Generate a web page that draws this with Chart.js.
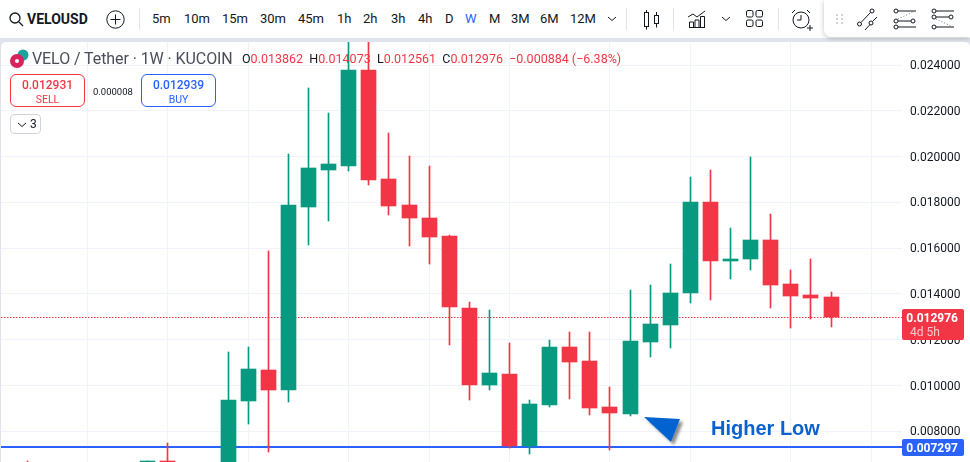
<!DOCTYPE html>
<html>
<head>
<meta charset="utf-8">
<title>VELOUSD</title>
<script src="https://cdn.jsdelivr.net/npm/chart.js@4/dist/chart.umd.min.js"></script>
<style>
html, body { margin: 0; padding: 0; background: #e0e3eb; overflow: hidden; }
body { width: 970px; height: 462px; position: relative; font-family: Roboto, sans-serif; }
#bar { position: absolute; left: 0; top: 0; width: 970px; height: 38px; background: #fff; color: #131722; }
#bar span { position: absolute; top: 11px; font-size: 13px; line-height: 16px; }
#bar svg { position: absolute; fill: none; stroke: #131722; stroke-width: 1; }
.sep { position: absolute; top: 8px; width: 1px; height: 22px; background: #e0e3eb; }
#tools { position: absolute; left: 824px; top: 0; width: 146px; height: 37px; background: #fff; border-radius: 0 0 0 7px; box-shadow: 0 1px 5px rgba(0,0,0,.25); }
#card { position: absolute; left: 1px; top: 42px; width: 969px; height: 420px; background: #fff; border-radius: 5px 5px 0 0; overflow: hidden; }
#chart { position: absolute; left: 0; top: 0; }
.legend { position: absolute; top: 9px; font-size: 12.5px; line-height: 16px; white-space: nowrap; color: #f23645; }
.trade { position: absolute; top: 32px; height: 33px; width: 75px; box-sizing: border-box; border: 1px solid; border-radius: 6px; text-align: center; background: #fff; font-size: 12px; }
.trade b { display: block; font-weight: 500; line-height: 15px; margin-top: 3px; }
.trade i { display: block; font-style: normal; font-size: 10.5px; line-height: 13px; }
#note { position: absolute; left: 710px; top: 374px; font: bold 20px "Liberation Sans", Arial, sans-serif; color: #0b61cf; line-height: 24px; }
</style>
</head>
<body>
<div id="bar">
  <svg style="left:9px;top:12px" width="15" height="15" viewBox="0 0 15 15"><circle cx="6" cy="6" r="5" stroke-width="1.3"/><path d="M10 10l4 4" stroke-width="1.3"/></svg>
  <span style="left:27px;font-weight:700;font-size:14px">VELOUSD</span>
  <svg style="left:106px;top:10px" width="19" height="19" viewBox="0 0 19 19"><circle cx="9.5" cy="9.5" r="8.7"/><path d="M9.5 4.5v10M4.5 9.5h10"/></svg>
  <div class="sep" style="left:139px"></div>
  <span style="left:152px">5m</span><span style="left:184px">10m</span><span style="left:222px">15m</span>
  <span style="left:260px">30m</span><span style="left:298px">45m</span><span style="left:337px">1h</span>
  <span style="left:363px">2h</span><span style="left:391px">3h</span><span style="left:418px">4h</span>
  <span style="left:445px">D</span><span style="left:465px;color:#2962ff">W</span><span style="left:489px">M</span>
  <span style="left:511px">3M</span><span style="left:540px">6M</span><span style="left:570px">12M</span>
  <svg style="left:607px;top:16px" width="10" height="6" viewBox="0 0 10 6"><path d="M1 1l4 3.5L9 1"/></svg>
  <div class="sep" style="left:626px"></div>
  <svg style="left:643px;top:10px" width="18" height="20" viewBox="0 0 18 20"><rect x="1.5" y="2.5" width="4" height="14"/><path d="M3.5 0v2.5M3.5 16.5v3"/><rect x="11.5" y="5.5" width="4" height="8"/><path d="M13.5 2v3.5M13.5 13.5v4"/></svg>
  <div class="sep" style="left:673px"></div>
  <svg style="left:688px;top:9px" width="20" height="20" viewBox="0 0 20 20"><path d="M0 8l5-3 4 3 8-6"/><path d="M1 18.5h16M1.5 13h4v5.5h-4zM7 11h4v7.5H7zM12.5 7.5h4v11h-4z"/></svg>
  <svg style="left:721px;top:16px" width="10" height="6" viewBox="0 0 10 6"><path d="M1 1l4 3.5L9 1"/></svg>
  <svg style="left:746px;top:10px" width="18" height="18" viewBox="0 0 18 18"><rect x=".5" y=".5" width="6.5" height="6.5" rx="1.5"/><rect x="10" y=".5" width="6.5" height="6.5" rx="1.5"/><rect x=".5" y="10" width="6.5" height="6.5" rx="1.5"/><rect x="10" y="10" width="6.5" height="6.5" rx="1.5"/></svg>
  <div class="sep" style="left:778px"></div>
  <svg style="left:791px;top:8px" width="22" height="24" viewBox="0 0 22 24"><circle cx="10" cy="12" r="8"/><path d="M10 7v5H6M1 5l3-3M16 2l3 3M16 20h6M19 17v6"/></svg>
  <div id="tools">
    <svg style="left:11px;top:13px" width="10" height="12" viewBox="0 0 10 12"><g fill="#d1d4dc" stroke="none"><rect x="1" y="1" width="2" height="2"/><rect x="6" y="1" width="2" height="2"/><rect x="1" y="5" width="2" height="2"/><rect x="6" y="5" width="2" height="2"/><rect x="1" y="9" width="2" height="2"/><rect x="6" y="9" width="2" height="2"/></g></svg>
    <svg style="left:33px;top:7px" width="24" height="24" viewBox="0 0 24 24"><circle cx="2.500" cy="17" r="2"/><circle cx="15" cy="4" r="2"/><circle cx="14" cy="16" r="2"/><path d="M4 15.500L13.500 5.500M8 23l5-5.500M15.500 14.500L20 10"/></svg>
    <svg style="left:69px;top:7px" width="26" height="24" viewBox="0 0 26 24"><circle cx="3" cy="4" r="2"/><circle cx="3" cy="14" r="2"/><circle cx="3" cy="20" r="2"/><circle cx="20" cy="14" r="2"/><path d="M5 4h18M5 14h13M5 20h18"/><path d="M5 12L20 5" stroke-dasharray="1 2" stroke="#787b86"/></svg>
    <svg style="left:107px;top:7px" width="26" height="24" viewBox="0 0 26 24"><circle cx="3" cy="4" r="2"/><circle cx="3" cy="10" r="2"/><circle cx="3" cy="20" r="2"/><circle cx="20" cy="10" r="2"/><path d="M5 4h18M5 10h13M5 20h18"/><path d="M5 12L20 19" stroke-dasharray="1 2" stroke="#787b86"/></svg>
  </div>
</div>
<div id="card">
  <canvas id="chart" width="969" height="420"></canvas>
  <svg style="position:absolute;left:9px;top:7px" width="20" height="20" viewBox="0 0 20 20"><circle cx="13" cy="6" r="5.500" fill="#1ba39c"/><circle cx="7" cy="12" r="7" fill="#d8245a"/><circle cx="7" cy="12" r="2" fill="#fff"/></svg>
  <div class="legend" style="left:31px;font-size:16px;letter-spacing:-.08px;color:#4a4e59">VELO / Tether · 1W · KUCOIN</div>
  <div class="legend" style="left:241px"><span style="color:#131722">O</span>0.013862 <span style="color:#131722">&nbsp;H</span>0.014073 <span style="color:#131722">&nbsp;L</span>0.012561 <span style="color:#131722">&nbsp;C</span>0.012976 &nbsp;−0.000884 (−6.38%)</div>
  <div class="trade" style="left:9px;color:#f23645;border-color:#f23645"><b>0.012931</b><i>SELL</i></div>
  <div style="position:absolute;left:92px;top:44px;font-size:9.5px;color:#131722">0.000008</div>
  <div class="trade" style="left:140px;color:#2962ff;border-color:#2962ff"><b>0.012939</b><i>BUY</i></div>
  <div style="position:absolute;left:9px;top:72px;width:31px;height:20px;box-sizing:border-box;border:1px solid #d1d4dc;border-radius:4px;font-size:12px;line-height:19px;color:#131722;text-indent:19px">3<svg style="position:absolute;left:6px;top:7px" width="10" height="6" viewBox="0 0 10 6" fill="none" stroke="#131722"><path d="M1 1l4 3.500L9 1"/></svg></div>
  <svg style="position:absolute;left:640px;top:372px;overflow:visible" width="46" height="34"><defs><filter id="sh" x="-20%" y="-20%" width="150%" height="150%"><feDropShadow dx="3" dy="3" stdDeviation="1.500" flood-color="#000" flood-opacity=".45"/></filter></defs><polygon points="3,3 39,5 30,28" fill="#0563d0" filter="url(#sh)"/></svg>
  <div id="note">Higher Low</div>
</div>
<script>
// week slots counted from the left edge of the crop
const weeks = [0, 6, 7, 10, 11, 12, 13, 14, 15, 16, 17, 18, 19, 20, 21, 22, 23, 24, 25, 26, 27, 28, 29, 30, 31, 32, 33, 34, 35, 36, 37, 38, 39, 40];
const opens = [0.0066, 0.0065, 0.0067, 0.00636, 0.00932, 0.01068, 0.0098, 0.0178, 0.01941, 0.01959, 0.02378, 0.01902, 0.01789, 0.01732, 0.01653, 0.01339, 0.01002, 0.0105, 0.00736, 0.00915, 0.01168, 0.01107, 0.00906, 0.00876, 0.0119, 0.01264, 0.01404, 0.01802, 0.01544, 0.01553, 0.01636, 0.01443, 0.01395, 0.013862];
const highs = [0.0067, 0.0067, 0.00749, 0.01146, 0.01168, 0.01587, 0.02011, 0.02299, 0.0219, 0.0262, 0.0262, 0.02103, 0.02002, 0.01959, 0.01657, 0.01365, 0.0133, 0.01186, 0.00937, 0.01199, 0.01234, 0.01234, 0.00994, 0.01417, 0.01439, 0.01531, 0.01911, 0.01941, 0.01688, 0.01998, 0.01749, 0.01505, 0.01553, 0.014073];
const lows = [0.0064, 0.0063, 0.0063, 0.0062, 0.00832, 0.0071, 0.00928, 0.01614, 0.01719, 0.01937, 0.01876, 0.01745, 0.01609, 0.01531, 0.01177, 0.00937, 0.00981, 0.00725, 0.00701, 0.00906, 0.00941, 0.00871, 0.00719, 0.00867, 0.01125, 0.01164, 0.0136, 0.01374, 0.01465, 0.01505, 0.01339, 0.01251, 0.0129, 0.012561];
const closes = [0.0065, 0.0067, 0.0065, 0.00936, 0.01072, 0.0098, 0.01789, 0.0195, 0.01968, 0.02378, 0.01898, 0.01784, 0.01732, 0.01649, 0.01343, 0.01002, 0.01055, 0.00736, 0.00919, 0.01168, 0.01103, 0.00902, 0.0088, 0.01195, 0.01269, 0.01404, 0.01802, 0.01544, 0.01553, 0.01636, 0.01439, 0.01391, 0.01382, 0.012976];
const gridWeeks = [3, 7, 11, 16, 20, 24, 29, 33, 38, 42];
const priceTicks = [0.008, 0.01, 0.012, 0.014, 0.016, 0.018, 0.02, 0.022, 0.024];
const lastClose = 0.012976;
const supportLevel = 0.007297;
const countdown = "4d 5h";

const UP = "#089981";
const DOWN = "#f23645";
const BLUE = "#2962ff";
const firstX = -1.3048, lastX = 43.5322;

function barColor(i) {
  return closes[i] >= opens[i] ? UP : DOWN;
}

// TradingView snaps everything to whole pixels, marks here would land on fractions otherwise
const snapMarks = {
  id: "snapMarks",
  afterDatasetsUpdate(chart) {
    chart.getSortedVisibleDatasetMetas().forEach(meta => {
      meta.data.forEach(mark => {
        if (meta.type == "bar") {
          mark.x = Math.floor(mark.x) + 0.5;
          mark.y = Math.round(mark.y);
          mark.base = Math.round(mark.base);
        } else if (meta.dataset.options.borderWidth == 2) {
          mark.y = Math.round(mark.y);
        } else {
          mark.y = Math.floor(mark.y) + 0.5;
        }
      });
    });
  }
};

function priceTag(ctx, y, h, fill) {
  ctx.fillStyle = fill;
  ctx.beginPath();
  ctx.roundRect(901, y, 62, h, 2);
  ctx.fill();
}

const priceTags = {
  id: "priceTags",
  afterDraw(chart) {
    const {ctx, scales} = chart;
    const yClose = Math.round(scales.y.getPixelForValue(lastClose));
    const yLevel = Math.round(scales.y.getPixelForValue(supportLevel));
    ctx.save();
    ctx.textAlign = "right";
    ctx.textBaseline = "middle";
    priceTag(ctx, yClose - 8, 31, DOWN);
    ctx.font = "bold 12px Roboto";
    ctx.fillStyle = "#fff";
    ctx.fillText(lastClose.toFixed(6), 957, yClose + 2);
    ctx.textAlign = "left";
    ctx.font = "12px Roboto";
    ctx.fillStyle = "#fcc8cd";
    ctx.fillText(countdown, 909, yClose + 16);
    ctx.textAlign = "right";
    priceTag(ctx, yLevel - 8, 17, BLUE);
    ctx.font = "bold 12px Roboto";
    ctx.fillStyle = "#fff";
    ctx.fillText(supportLevel.toFixed(6), 957, yLevel + 2);
    ctx.restore();
  }
};

new Chart(document.getElementById("chart"), {
  type: "bar",
  data: {
    datasets: [
      {
        data: weeks.map((w, i) => ({x: w, y: [opens[i], closes[i]]})),
        backgroundColor: weeks.map((w, i) => barColor(i)),
        barThickness: 15,
        order: 0
      },
      {
        data: weeks.map((w, i) => ({x: w, y: [lows[i], highs[i]]})),
        backgroundColor: weeks.map((w, i) => barColor(i)),
        barThickness: 1,
        order: 1
      },
      {
        type: "line",
        data: [{x: firstX, y: supportLevel}, {x: lastX, y: supportLevel}],
        borderColor: BLUE,
        borderWidth: 2,
        pointRadius: 0,
        order: 2
      },
      {
        type: "line",
        data: [{x: firstX, y: lastClose}, {x: lastX, y: lastClose}],
        borderColor: DOWN,
        borderWidth: 1,
        borderDash: [1.5, 1.5],
        pointRadius: 0,
        order: 3
      }
    ]
  },
  options: {
    responsive: false,
    animation: false,
    layout: {padding: 0, autoPadding: false},
    plugins: {legend: {display: false}, tooltip: {enabled: false}},
    datasets: {bar: {grouped: false}},
    scales: {
      x: {
        type: "linear",
        offset: false,
        min: firstX,
        max: lastX,
        afterBuildTicks: scale => { scale.ticks = gridWeeks.map(value => ({value})); },
        ticks: {display: false},
        grid: {color: "#f0f3fa", offset: false, drawTicks: false},
        border: {display: false}
      },
      y: {
        position: "right",
        offset: false,
        min: 0.00666,
        max: 0.025005,
        afterBuildTicks: scale => { scale.ticks = priceTicks.map(value => ({value})); },
        // keep the plot flush with the canvas, labels may stick out
        afterFit: scale => {
          scale.width = 68;
          scale.paddingTop = 0;
          scale.paddingBottom = 0;
        },
        ticks: {
          color: "#131722",
          font: {family: "Roboto", size: 12},
          padding: 8,
          labelOffset: 1,
          callback: value => value.toFixed(6)
        },
        grid: {color: "#f0f3fa", drawTicks: false},
        border: {display: false}
      }
    }
  },
  plugins: [snapMarks, priceTags]
});
</script>
</body>
</html>
